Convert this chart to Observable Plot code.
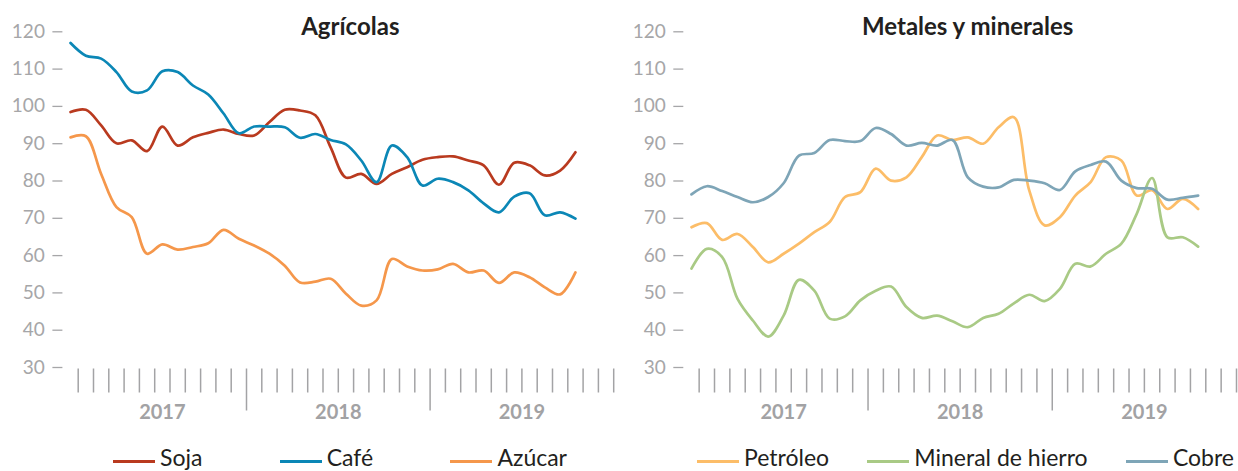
<!DOCTYPE html>
<html>
<head>
<meta charset="utf-8">
<script src="https://cdn.jsdelivr.net/npm/d3@7"></script>
<script src="https://cdn.jsdelivr.net/npm/@observablehq/plot@0.6"></script>
<style>
  html, body { margin: 0; padding: 0; background: #fff; }
  #chart { position: relative; width: 1238px; height: 471px; overflow: hidden; font-family: Lato, "Noto Sans", sans-serif; }
  .panel { position: absolute; top: 0; }
  .legend { position: absolute; top: 446px; display: flex; justify-content: space-between; font-size: 23px; line-height: 23px; color: #231f20; white-space: nowrap; }
  .legend .sw { display: inline-block; width: 42px; height: 3px; margin-right: 5px; vertical-align: 3px; }
</style>
</head>
<body>
<div id="chart">
  <div id="left" class="panel" style="left:0px"></div>
  <div id="right" class="panel" style="left:619px"></div>
  <div id="legL" class="legend" style="left:113px;width:454px"></div>
  <div id="legR" class="legend" style="left:697px;width:537px"></div>
</div>
<script>
// Monthly values, Jan 2017 – Oct 2019 (34 months)
const soja    = [98.5, 99.1, 94.9, 90.1, 90.9, 88.0, 94.6, 89.5, 91.7, 92.9, 93.8, 92.6, 92.2, 95.8, 99.1, 98.9, 97.6, 89.0, 80.9, 81.9, 79.2, 81.9, 83.7, 85.7, 86.4, 86.6, 85.5, 84.2, 79.0, 84.9, 84.2, 81.5, 82.8, 87.7];
const cafe    = [117.0, 113.6, 112.8, 109.2, 104.0, 104.3, 109.4, 109.2, 105.6, 103.2, 98.1, 92.8, 94.6, 94.6, 94.4, 91.6, 92.6, 91.0, 89.8, 85.5, 79.7, 89.5, 86.4, 78.8, 80.6, 79.7, 77.5, 74.0, 71.6, 75.8, 76.7, 70.8, 71.6, 69.9];
const azucar  = [91.7, 92.0, 81.9, 73.0, 70.3, 60.5, 63.0, 61.6, 62.3, 63.3, 66.9, 64.5, 62.7, 60.5, 57.3, 52.8, 53.0, 53.8, 49.8, 46.6, 48.0, 59.1, 57.1, 56.0, 56.3, 57.8, 55.5, 56.0, 52.7, 55.5, 54.2, 51.5, 49.6, 55.5];
const petroleo = [67.6, 68.7, 64.2, 65.8, 62.3, 58.2, 60.5, 63.2, 66.3, 69.0, 75.7, 77.0, 83.3, 80.1, 81.0, 86.4, 92.2, 91.0, 91.7, 90.0, 94.4, 97.1, 77.5, 68.1, 70.3, 76.1, 79.7, 86.4, 85.5, 76.1, 77.5, 72.5, 75.2, 72.5];
const hierro  = [56.5, 61.8, 59.6, 48.4, 42.6, 38.3, 43.9, 53.5, 50.6, 43.1, 43.7, 48.0, 50.6, 51.7, 46.2, 43.3, 43.9, 42.4, 40.8, 43.3, 44.4, 47.2, 49.5, 47.8, 51.1, 57.8, 57.1, 60.5, 63.2, 71.2, 80.8, 64.9, 64.9, 62.4];
const cobre   = [76.4, 78.6, 77.3, 75.7, 74.3, 75.7, 79.4, 86.8, 87.5, 91.0, 90.7, 90.7, 94.2, 92.6, 89.5, 90.2, 89.5, 91.0, 81.0, 78.5, 78.3, 80.3, 80.1, 79.4, 77.6, 82.6, 84.3, 85.2, 80.1, 78.1, 77.9, 75.0, 75.5, 76.1];

const yTicks = [30, 40, 50, 60, 70, 80, 90, 100, 110, 120];
const years = ["2017", "2018", "2019"];
const monthsShown = 36; // Jan 2017 – Dec 2019 on the axis

const leftNames = ["Soja", "Café", "Azúcar"];
const leftColors = ["#b93a1f", "#0b87b6", "#f5974b"];
const rightNames = ["Petróleo", "Mineral de hierro", "Cobre"];
const rightColors = ["#fcbd68", "#a9ca85", "#7ea5b7"];

// month boundaries (between month k and k+1), year boundaries long
const boundaries = d3.range(0, monthsShown).map(k => k + 0.5);
const longTicks = boundaries.filter((b, k) => k === 11 || k === 23);
const shortTicks = boundaries.filter((b, k) => k !== 11 && k !== 23);
const yearEdges = [boundaries[0], longTicks[0], longTicks[1], boundaries[boundaries.length - 1]];
const yearRows = years.map((label, j) => ({label, pos: (yearEdges[j] + yearEdges[j + 1]) / 2}));

const gray = "#a6a6a8";

function panel({title, names, colors, values, marginLeft, marginRight, titleDx}) {
  const rows = names.flatMap((name, s) => values[s].map((v, i) => ({i, v, name})));
  return Plot.plot({
    width: 619,
    height: 440,
    marginTop: 31.3,
    marginBottom: 73,
    marginLeft,
    marginRight,
    style: {fontFamily: "Lato, 'Noto Sans', sans-serif", fontSize: "19px", background: "white", overflow: "visible"},
    x: {domain: [-0.5, monthsShown - 0.5], axis: null},
    y: {domain: [30, 120], axis: null},
    color: {domain: names, range: colors},
    marks: [
      Plot.axisY({ticks: yTicks, tickSize: 10, tickPadding: 8, color: gray, strokeWidth: 1.3, fontSize: 19, label: null}),
      Plot.axisX({ticks: shortTicks, tickSize: 24, dy: 1.5, tickFormat: () => "", color: "#a3a3a5", strokeWidth: 1.5, label: null}),
      Plot.axisX({ticks: longTicks, tickSize: 42, dy: 1.5, tickFormat: () => "", color: "#a3a3a5", strokeWidth: 1.5, label: null}),
      Plot.text(yearRows, {x: "pos", text: "label", frameAnchor: "bottom", dy: 45, lineAnchor: "middle", fontWeight: "bold", fontSize: 20, fill: "#a2a2a4"}),
      Plot.text([title], {frameAnchor: "top", dx: titleDx, dy: -4.3, lineAnchor: "middle", fontWeight: "bold", fontSize: 24, fill: "#231f20"}),
      Plot.line(rows, {x: "i", y: "v", z: "name", stroke: "name", strokeWidth: 2.7, curve: "catmull-rom"})
    ]
  });
}

document.getElementById("left").append(panel({
  title: "Agrícolas", names: leftNames, colors: leftColors, values: [soja, cafe, azucar],
  marginLeft: 62.4, marginRight: 5.8, titleDx: 12
}));
document.getElementById("right").append(panel({
  title: "Metales y minerales", names: rightNames, colors: rightColors, values: [petroleo, hierro, cobre],
  marginLeft: 64.3, marginRight: 2, titleDx: 7.5
}));

function legend(id, names, colors) {
  const el = document.getElementById(id);
  names.forEach((n, k) => {
    const item = document.createElement("span");
    const sw = document.createElement("span");
    sw.className = "sw";
    sw.style.background = colors[k];
    item.append(sw, document.createTextNode(n));
    el.append(item);
  });
}
legend("legL", leftNames, leftColors);
legend("legR", rightNames, rightColors);
</script>
</body>
</html>
